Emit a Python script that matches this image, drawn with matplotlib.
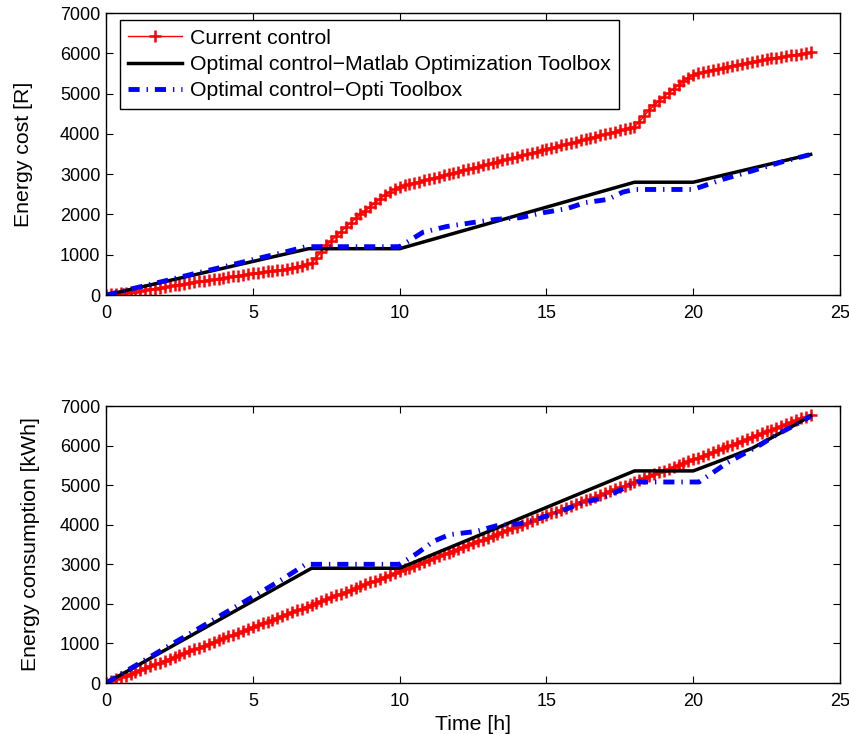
# Energy cost / consumption comparison, MATLAB-style two panel plot
import numpy as np
import matplotlib
matplotlib.use("Agg")
import matplotlib.pyplot as plt

plt.rcParams['font.family'] = ['Liberation Sans', 'DejaVu Sans']
plt.rcParams['lines.scale_dashes'] = False

# current control, sampled every 10 min (0 .. 24 h)
t_current = np.linspace(0, 24, 145)
cost_current = [
    # 0 - 6 h
    0, 14, 28, 42, 56, 70, 85, 104, 123, 142, 161, 180, 200, 220, 240, 260, 280,
    300, 320, 337, 353, 370, 387, 403, 420, 440, 460, 480, 500, 520, 540, 555,
    570, 585, 600, 615, 630,
    # 6 - 10 h
    655, 680, 705, 732, 760, 790, 930, 1080, 1230, 1345, 1460, 1570, 1685, 1795,
    1900, 2000, 2095, 2190, 2290, 2385, 2480, 2565, 2635, 2690,
    # 10 - 18 h
    2721, 2752, 2783, 2814, 2845, 2876, 2907, 2938, 2969, 3000, 3031, 3062, 3094,
    3125, 3156, 3187, 3218, 3249, 3280, 3311, 3342, 3373, 3404, 3435, 3466, 3497,
    3528, 3559, 3590, 3621, 3652, 3683, 3714, 3745, 3776, 3807, 3838, 3869, 3900,
    3931, 3962, 3993, 4024, 4055, 4086, 4118, 4149, 4180,
    # 18 - 24 h
    4300, 4450, 4590, 4705, 4815, 4920, 5020, 5115, 5210, 5300, 5385, 5460, 5500,
    5535, 5570, 5595, 5618, 5640, 5665, 5690, 5715, 5740, 5765, 5790, 5810, 5830,
    5850, 5873, 5895, 5915, 5933, 5952, 5970, 5987, 6003, 6020,
]
energy_current = [
    0, 47, 94, 141, 188, 235, 283, 330, 377, 424, 471, 518, 565, 612, 659, 706,
    753, 800, 848, 895, 942, 989, 1036, 1083, 1130, 1177, 1224, 1271, 1318, 1365,
    1413, 1460, 1507, 1554, 1601, 1648, 1695, 1742, 1789, 1836, 1883, 1930, 1978,
    2025, 2072, 2119, 2166, 2213, 2260, 2307, 2354, 2401, 2448, 2495, 2543, 2590,
    2637, 2684, 2731, 2778, 2825, 2872, 2919, 2966, 3013, 3060, 3108, 3155, 3202,
    3249, 3296, 3343, 3390, 3437, 3484, 3531, 3578, 3625, 3673, 3720, 3767, 3814,
    3861, 3908, 3955, 4002, 4049, 4096, 4143, 4190, 4238, 4285, 4332, 4379, 4426,
    4473, 4520, 4567, 4614, 4661, 4708, 4755, 4803, 4850, 4897, 4944, 4991, 5038,
    5085, 5132, 5179, 5226, 5273, 5320, 5368, 5415, 5462, 5509, 5556, 5603, 5650,
    5697, 5744, 5791, 5838, 5885, 5933, 5980, 6027, 6074, 6121, 6168, 6215, 6262,
    6309, 6356, 6403, 6450, 6498, 6545, 6592, 6639, 6686, 6733, 6780,
]

# optimal control - Matlab Optimization Toolbox
t_matlab_cost = [0, 6.9, 10, 18, 20, 24]
cost_matlab = [0, 1150, 1150, 2800, 2800, 3490]
t_matlab_energy = [0, 7, 10, 18, 20, 21, 22, 23, 24]
energy_matlab = [0, 2900, 2900, 5360, 5360, 5640, 5930, 6330, 6750]

# optimal control - Opti Toolbox
t_opti_cost = [0, 1, 2, 3, 4, 5, 6, 6.8, 10, 10.8, 11.6, 12.5, 13.3, 14.1, 14.9,
               15.7, 16.3, 17.1, 17.6, 18, 20, 21, 22, 23, 24]
cost_opti = [0, 175, 350, 530, 700, 880, 1050, 1200, 1200, 1560, 1700, 1800, 1880,
             1920, 2045, 2145, 2290, 2375, 2555, 2620, 2620, 2870, 3080, 3300, 3490]
t_opti_energy = [0, 1, 2, 3, 4, 5, 6, 6.8, 10, 10.6, 11.15, 11.7, 12.6, 13.3, 14.1,
                 14.8, 15.5, 16.2, 16.9, 17.5, 18.1, 20.2, 21.15, 22.3, 22.85, 23.5, 24]
energy_opti = [0, 440, 880, 1310, 1750, 2180, 2620, 3000, 3000, 3280, 3580, 3750,
               3830, 3975, 4025, 4170, 4340, 4550, 4675, 4870, 5080, 5080, 5560,
               6025, 6280, 6530, 6740]

labels = ['Current control',
          'Optimal control\u2212Matlab Optimization Toolbox',
          'Optimal control\u2212Opti Toolbox']

opti_dash = (0, (8, 5, 1, 5))
label_size = 15.3


def style_axes(ax):
    ax.set_xlim(0, 25)
    ax.set_ylim(0, 7000)
    ax.set_xticks(range(0, 26, 5))
    ax.set_yticks(range(0, 7001, 1000))
    ax.tick_params(direction='in', top=True, right=True, length=5, width=0.8,
                   labelsize=13)
    ax.tick_params(axis='x', pad=7)
    ax.tick_params(axis='y', pad=4)
    for s in ax.spines.values():
        s.set_linewidth(1.0)


fig = plt.figure(figsize=(8.49, 7.35), dpi=100)
ax1 = fig.add_axes([0.1249, 0.5986, 0.8645, 0.3837])
ax2 = fig.add_axes([0.1249, 0.0707, 0.8645, 0.3769])

# top panel: cost
ax1.plot(t_current, cost_current, '-+', color='red', lw=1, ms=8, mew=1.8,
         label=labels[0])
ax1.plot(t_matlab_cost, cost_matlab, '-', color='black', lw=2.5, label=labels[1])
ax1.plot(t_opti_cost, cost_opti, color='blue', lw=3.5, linestyle=opti_dash,
         label=labels[2])
style_axes(ax1)
ax1.set_ylabel('Energy cost [R]', fontsize=label_size)
ax1.yaxis.set_label_coords(-0.100, 0.5)
leg = ax1.legend(loc='upper left', bbox_to_anchor=(0.019, 0.975),
                 borderaxespad=0, fontsize=label_size, fancybox=False,
                 framealpha=1, edgecolor='black', handlelength=2.5,
                 labelspacing=0.35, borderpad=0.4, handletextpad=0.4)
leg.get_frame().set_linewidth(1.0)

# bottom panel: consumption
ax2.plot(t_current, energy_current, '-+', color='red', lw=1, ms=8, mew=1.8)
ax2.plot(t_matlab_energy, energy_matlab, '-', color='black', lw=2.5)
ax2.plot(t_opti_energy, energy_opti, color='blue', lw=3.5, linestyle=opti_dash)
style_axes(ax2)
ax2.set_ylabel('Energy consumption [kWh]', fontsize=label_size)
ax2.yaxis.set_label_coords(-0.090, 0.5)
ax2.set_xlabel('Time [h]', fontsize=label_size)

fig.savefig('out.png', dpi=100)
